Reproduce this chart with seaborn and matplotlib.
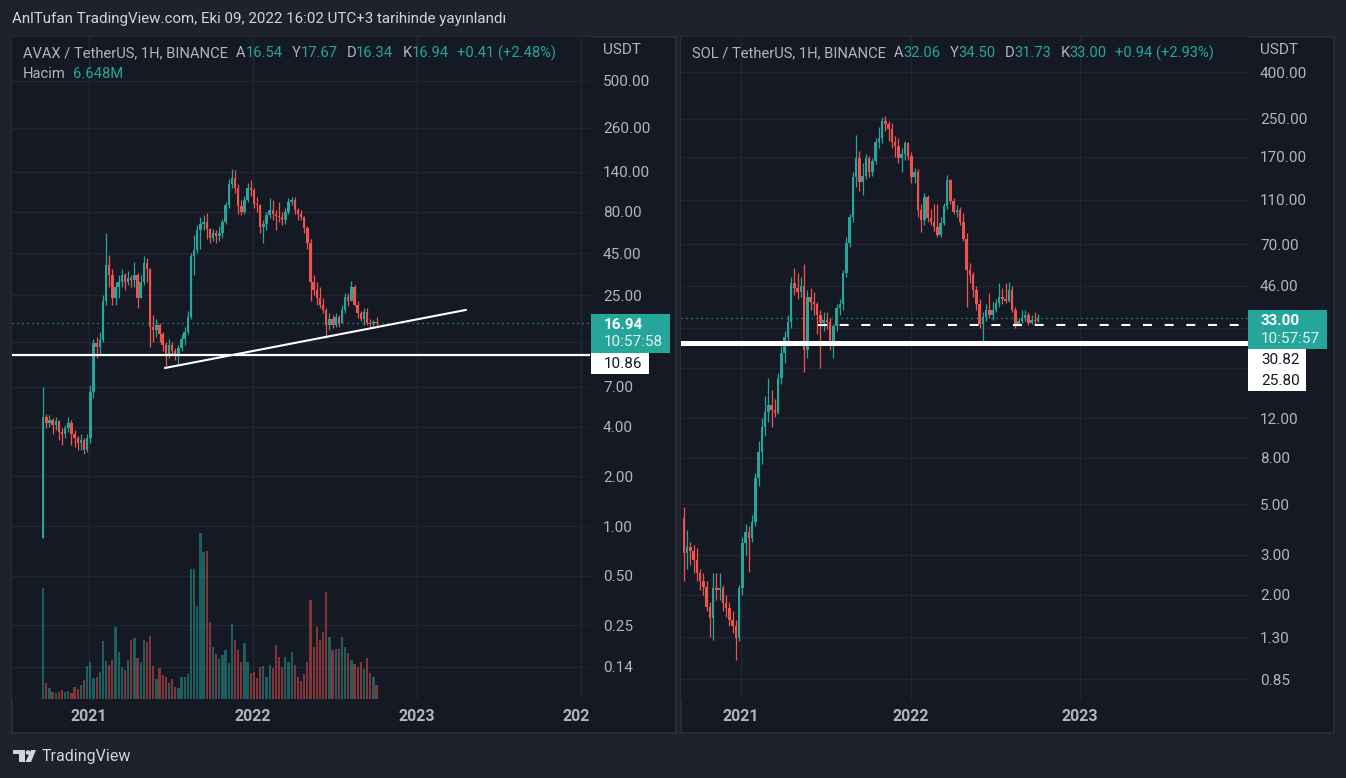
import numpy as np
import pandas as pd
import matplotlib
matplotlib.use("Agg")
import matplotlib.pyplot as plt
import matplotlib.dates as mdates
from matplotlib.patches import Rectangle, Polygon, Circle
from matplotlib.ticker import NullLocator
from matplotlib.transforms import Bbox, TransformedBbox
import seaborn as sns

# ---------------------------------------------------------------- data
avax_start = "2020-09-21"   # weekly candles
avax_open = [0.85, 4.6, 4.2, 4.4, 4.1, 4.3, 3.7, 3.6, 3.9, 4.2, 3.6, 3.4, 3.2, 3.3, 2.9,
             3.4, 6.5, 12.8, 12.2, 13.4, 23, 38, 33, 24, 28, 30, 33, 30, 32, 31,
             33, 24, 30, 39, 36, 16, 15.5, 16.5, 14.5, 12.5, 11, 12.5, 11.5, 10.8, 12,
             13.5, 15, 18.5, 43, 47, 62, 68, 70, 63, 56, 60, 57, 60, 70, 88,
             118, 128, 112, 87, 80, 95, 112, 108, 90, 88, 65, 68, 77, 82, 78,
             76, 75, 72, 80, 92, 95, 82, 78, 75, 64, 52, 30, 27, 24, 22,
             20.5, 16.5, 18, 16.5, 18.5, 17, 20.5, 24.5, 23, 28, 22, 19.5, 18, 19.8, 17,
             16.8, 17.2]
avax_high = [7.0, 4.8, 4.7, 4.5, 4.6, 4.4, 3.9, 4.1, 4.6, 4.4, 3.8, 3.5, 3.6, 3.4, 3.6,
             7.2, 13.5, 14, 15, 25, 60, 44, 36, 30, 33, 36, 34, 35, 33, 40,
             34, 33, 43, 42, 36.6, 19, 18, 17, 15, 13, 13.5, 13, 12, 12.5, 14.5,
             16, 20, 45, 58, 67, 75, 77, 79, 64, 63, 62, 66, 73, 92, 126,
             146, 144, 118, 95, 100, 120, 125, 112, 98, 90, 72, 80, 97, 95, 82,
             92, 80, 84, 97, 99, 98, 84, 82, 76, 66, 55, 33, 30, 28, 24,
             21, 19.5, 19, 19.5, 19, 22, 26, 26, 30.5, 29, 23, 20, 21, 21, 18,
             17.8, 18.5]
avax_low = [0.85, 3.9, 4.0, 3.6, 3.8, 3.3, 3.1, 3.4, 3.7, 3.1, 3.0, 2.9, 2.9, 2.75, 2.8,
            3.2, 6.0, 10.5, 11, 13, 22, 28, 22, 22, 24, 28, 27, 29, 28, 28,
            21, 24, 29, 30, 12.2, 13, 14, 13, 11.5, 9.1, 10.5, 10.8, 10.2, 9.3, 11.5,
            12.5, 14.5, 18, 33, 45, 48, 62, 55, 52, 53, 52, 53, 56, 68, 84,
            112, 105, 78, 77, 78, 92, 100, 85, 80, 60, 52, 62, 74, 72, 62,
            70, 67, 68, 78, 88, 78, 72, 72, 60, 48, 23, 25, 22, 21, 19.5,
            13.8, 15.5, 15.8, 16, 16, 17, 19.5, 21.5, 23, 21.5, 18.3, 17.5, 16.5, 16.5, 16,
            16.3, 16.3]
avax_close = [4.6, 4.2, 4.4, 4.1, 4.3, 3.7, 3.6, 3.9, 4.2, 3.6, 3.4, 3.2, 3.3, 2.9, 3.4,
              6.5, 12.8, 12.2, 13.4, 23, 38, 33, 24, 28, 30, 33, 30, 32, 31, 33,
              24, 30, 39, 36, 16, 15.5, 16.5, 14.5, 12.5, 11, 12.5, 11.5, 10.8, 12, 13.5,
              15, 18.5, 43, 47, 62, 68, 70, 63, 56, 60, 57, 60, 70, 88, 118,
              128, 112, 87, 80, 95, 112, 108, 90, 88, 65, 68, 77, 82, 78, 76,
              75, 72, 80, 92, 95, 82, 78, 75, 64, 52, 30, 27, 24, 22, 20.5,
              16.5, 18, 16.5, 18.5, 17, 20.5, 24.5, 23, 28, 22, 19.5, 18, 19.8, 17, 16.8,
              17.2, 16.94]
avax_volume = [111, 16, 11, 7, 6, 7, 9, 7, 8, 6, 12, 10, 14, 19, 33,
               37, 21, 22, 27, 58, 38, 34, 39, 72, 47, 32, 29, 39, 59, 61,
               41, 37, 59, 57, 63, 33, 20, 31, 24, 22, 16, 20, 12, 11, 22,
               22, 25, 130, 130, 93, 166, 147, 148, 77, 52, 45, 40, 44, 49, 36,
               75, 59, 49, 37, 56, 37, 26, 27, 21, 32, 33, 22, 34, 31, 54,
               42, 32, 42, 37, 47, 34, 22, 18, 25, 37, 99, 52, 72, 59, 67,
               107, 62, 49, 50, 50, 62, 52, 46, 39, 35, 32, 37, 30, 41, 26,
               22, 14]

sol_start = "2020-08-31"    # weekly candles
sol_open = [4.35, 3.05, 3.24, 3.1, 2.84, 2.5, 2.3, 2.16, 1.76, 1.58, 2.14, 2.1, 2.15, 1.84, 1.75,
            1.55, 1.45, 1.29, 2.14, 3.38, 3.78, 3.55, 4.17, 6.5, 8.5, 11, 12.7, 13.7, 13, 12.6,
            18, 23.2, 27.2, 31.8, 47, 45, 43, 46, 24, 41, 39, 38, 34, 31.4, 32.5,
            31.8, 26, 30.4, 36.7, 38, 52, 70.6, 92, 138, 168, 132, 140, 168, 145, 163,
            197, 205, 245, 236, 225, 197, 190, 168, 175, 195, 171, 138, 146, 98.5, 89,
            113, 91, 88, 83.6, 76.7, 87, 103, 134, 109, 97, 99, 88, 74, 54, 51,
            44, 38, 31, 33.5, 36, 34, 36, 38.5, 41, 40, 39.5, 44, 36, 31, 32,
            33, 34, 31.5, 32.5, 32]
sol_high = [4.86, 3.85, 3.4, 3.3, 3.2, 2.6, 2.5, 2.3, 1.85, 2.5, 2.5, 2.5, 2.2, 2.0, 1.85,
            1.7, 1.55, 2.2, 3.6, 4.1, 4.0, 4.5, 6.9, 9.5, 12, 15, 18, 16, 14.5, 19,
            25, 29, 34, 50, 55, 52, 50, 57, 44, 45, 43, 39, 36, 35, 35,
            33, 31, 38, 40, 54, 75, 95, 145, 212, 180, 160, 175, 172, 168, 205,
            230, 254, 258, 245, 240, 210, 205, 185, 200, 198, 178, 152, 150, 105, 118,
            115, 100, 105, 105, 92, 106, 141, 136, 112, 104, 102, 96, 78, 58, 53,
            46, 40, 35, 38, 42.5, 39, 40, 47, 45, 47, 47.5, 46, 37, 33, 36,
            36, 35, 34, 35, 34.5]
sol_low = [2.3, 2.6, 2.7, 2.5, 2.3, 2.1, 2.0, 1.7, 1.3, 1.26, 1.9, 1.9, 1.7, 1.6, 1.45,
           1.35, 1.03, 1.25, 2.0, 3.0, 2.52, 3.4, 4.0, 6.0, 7.5, 10, 11.5, 11, 12.1, 12.5,
           17, 21, 25, 30, 42, 40, 41, 19.1, 22, 36, 34, 28, 20, 29, 29.5,
           24, 22.1, 29, 34, 36, 50, 68, 88, 125, 120, 115, 135, 138, 140, 158,
           185, 195, 220, 200, 185, 170, 160, 146, 165, 165, 130, 130, 92, 79, 85,
           88, 85, 80, 75, 75, 85, 100, 105, 95, 92, 85, 72, 37, 47, 41,
           36, 30, 25.8, 32, 33, 32.4, 35, 37, 38, 38.5, 39, 35, 30, 30.5, 31.5,
           32, 30.8, 31, 31, 31.7]
sol_close = [3.05, 3.24, 3.1, 2.84, 2.5, 2.3, 2.16, 1.76, 1.58, 2.14, 2.1, 2.15, 1.84, 1.75, 1.55,
             1.45, 1.29, 2.14, 3.38, 3.78, 3.55, 4.17, 6.5, 8.5, 11, 12.7, 13.7, 13, 12.6, 18,
             23.2, 27.2, 31.8, 47, 45, 43, 46, 24, 41, 39, 38, 34, 31.4, 32.5, 31.8,
             26, 30.4, 36.7, 38, 52, 70.6, 92, 138, 168, 132, 140, 168, 145, 163, 197,
             205, 245, 236, 225, 197, 190, 168, 175, 195, 171, 138, 146, 98.5, 89, 113,
             91, 88, 83.6, 76.7, 87, 103, 134, 109, 97, 99, 88, 74, 54, 51, 44,
             38, 31, 33.5, 36, 34, 36, 38.5, 41, 40, 39.5, 44, 36, 31, 32, 33,
             34, 31.5, 32.5, 32, 33]

avax_ticks = [0.14, 0.25, 0.5, 1, 2, 4, 7, 13, 25, 45, 80, 140, 260, 500]
avax_tick_labels = ["0.14", "0.25", "0.50", "1.00", "2.00", "4.00", "7.00", "",
                    "25.00", "45.00", "80.00", "140.00", "260.00", "500.00"]
sol_ticks = [0.85, 1.3, 2, 3, 5, 8, 12, 20, 30, 46, 70, 110, 170, 250, 400]
sol_tick_labels = ["0.85", "1.30", "2.00", "3.00", "5.00", "8.00", "12.00", "", "",
                   "46.00", "70.00", "110.00", "170.00", "250.00", "400.00"]
avax_year_ticks = ["2021-01-01", "2022-01-01", "2023-01-01", "2024-01-01"]
avax_year_labels = ["2021", "2022", "2023", "2024"]
sol_year_ticks = ["2021-01-01", "2022-01-01", "2023-01-01"]
sol_year_labels = ["2021", "2022", "2023"]

avax_last, avax_timer = 16.94, "10:57:58"
avax_level = 10.86
avax_trend_dates = ["2021-06-19", "2023-04-20"]
avax_trend_prices = [9.07, 20.4]
sol_last, sol_timer = 33.00, "10:57:57"
sol_dash_level, sol_solid_level = 30.82, 25.80
sol_dash_start = "2021-06-15"

title_text = "AnlTufan TradingView.com, Eki 09, 2022 16:02 UTC+3 tarihinde yayınlandı"
avax_legend = [("AVAX / TetherUS, 1H, BINANCE", "g", 0), ("A", "g", 8), ("16.54", "t", 0),
               ("Y", "g", 9), ("17.67", "t", 0), ("D", "g", 9), ("16.34", "t", 0),
               ("K", "g", 9), ("16.94", "t", 0), ("+0.41 (+2.48%)", "t", 8)]
sol_legend = [("SOL / TetherUS, 1H, BINANCE", "g", 0), ("A", "g", 8), ("32.06", "t", 0),
              ("Y", "g", 9), ("34.50", "t", 0), ("D", "g", 9), ("31.73", "t", 0),
              ("K", "g", 9), ("33.00", "t", 0), ("+0.94 (+2.93%)", "t", 8)]
volume_legend = [("Hacim", "g", 0), ("6.648M", "t", 7)]

# ---------------------------------------------------------------- style
OUTER = "#1e222d"
PANE = "#151924"
GRID = "#222632"
TXT = "#b2b5be"
HEAD = "#d1d4dc"
UP = "#26a69a"
DOWN = "#ef5350"

sns.set_theme(style="dark", rc={"axes.facecolor": PANE, "figure.facecolor": OUTER,
                                "axes.edgecolor": PANE, "grid.color": GRID})
plt.rcParams["font.family"] = ["Roboto", "DejaVu Sans"]

W, H = 1346, 778
fig = plt.figure(figsize=(W / 100, H / 100), dpi=100)
fig.patch.set_facecolor(OUTER)

FS = 11      # axis / label font size
BODY_W = 5.4  # candle body width in days


def frac(x0, y0, x1, y1):
    return [x0 / W, 1 - y1 / H, (x1 - x0) / W, (y1 - y0) / H]


ax_bg = fig.add_axes([0, 0, 1, 1], zorder=-10)
ax_bg.set_xlim(0, W); ax_bg.set_ylim(H, 0); ax_bg.set_axis_off()
for (x0, y0, x1, y1) in [(12, 37, 676, 733), (681, 37, 1334, 733)]:
    ax_bg.add_patch(Rectangle((x0, y0), x1 - x0, y1 - y0, facecolor=PANE,
                              edgecolor="#2a2e39", lw=1.2))


def candles(ax, dates, o, h, l, c, width):
    o, h, l, c = map(np.asarray, (o, h, l, c))
    cols = np.where(c >= o, UP, DOWN)
    ax.vlines(dates, l, h, colors=cols, lw=0.9, zorder=3)
    body = np.maximum(np.abs(c - o), np.minimum(o, c) * 0.012)
    ax.bar(dates, body, bottom=np.minimum(o, c), width=width, color=cols,
           linewidth=0, zorder=4)
    return cols


def setup(ax, ticks, labels, ylim, xlim, pad_px, clip_right, yticks, ylabels):
    ax.set_yscale("log")
    ax.set_ylim(*ylim)
    ax.set_xlim(*xlim)
    ax.yaxis.tick_right()
    ax.yaxis.set_label_position("right")
    ax.set_yticks(ticks, labels=labels)
    ax.yaxis.set_minor_locator(NullLocator())
    yt = mdates.date2num(pd.to_datetime(yticks))
    ax.set_xticks(yt, labels=ylabels)
    ax.xaxis.set_minor_locator(NullLocator())
    ax.grid(True, which="major", color=GRID, lw=1)
    ax.tick_params(axis="y", which="both", length=0, pad=pad_px * 0.72, labelsize=FS,
                   colors=TXT, left=False, labelleft=False, right=False, labelright=True)
    ax.tick_params(axis="x", length=0, pad=7.0, labelsize=11.5, colors=TXT)
    for lab in ax.get_xticklabels():
        lab.set_fontweight("bold")
    for s in ax.spines.values():
        s.set_visible(False)
    clip = TransformedBbox(Bbox.from_extents(0, 0, clip_right / W, 1), fig.transFigure)
    for t in ax.xaxis.get_major_ticks():
        t.label1.set_clip_on(True)
        t.label1.set_clip_box(clip)


# ---------------- AVAX pane
ax1 = fig.add_axes(frac(12, 37, 590, 699))
axv = ax1.twinx()
d1 = mdates.date2num(pd.date_range(avax_start, periods=len(avax_close), freq="7D"))
d2021 = mdates.date2num(pd.Timestamp("2021-01-01"))
ppd1 = 164 / 365.0
xlim1 = (d2021 - (89 - 12) / ppd1, d2021 + (590 - 89) / ppd1)
ylim1 = (10 ** ((526 - 699) / 165), 10 ** ((526 - 37) / 165))
setup(ax1, avax_ticks, avax_tick_labels, ylim1, xlim1, 13, 590,
      avax_year_ticks, avax_year_labels)
cols1 = candles(ax1, d1, avax_open, avax_high, avax_low, avax_close, BODY_W)

axv.set_ylim(0, max(avax_volume) / 0.251)
axv.bar(d1, avax_volume, width=5.0, color=cols1, alpha=0.5, linewidth=0, zorder=2)
axv.yaxis.set_visible(False)
axv.grid(False)
for s in axv.spines.values():
    s.set_visible(False)
axv.set_xlim(*xlim1)

ax1.axhline(avax_level, color="white", lw=1.6, zorder=6)
ax1.axhline(avax_last, color=UP, lw=0.9, ls=(0, (1, 3)), zorder=2)
sns.lineplot(x=mdates.date2num(pd.to_datetime(avax_trend_dates)), y=avax_trend_prices,
             ax=ax1, color="white", lw=1.5, zorder=6)

# ---------------- SOL pane
ax2 = fig.add_axes(frac(681, 37, 1248, 699))
d2 = mdates.date2num(pd.date_range(sol_start, periods=len(sol_close), freq="7D"))
ppd2 = 339 / 730.0
xlim2 = (d2021 - (741 - 681) / ppd2, d2021 + (1248 - 741) / ppd2)
ylim2 = (10 ** ((663 - 699) / 227), 10 ** ((663 - 37) / 227))
setup(ax2, sol_ticks, sol_tick_labels, ylim2, xlim2, 12, 1248,
      sol_year_ticks, sol_year_labels)
candles(ax2, d2, sol_open, sol_high, sol_low, sol_close, BODY_W)
ax2.axhline(sol_solid_level, color="white", lw=3.6, zorder=6)
ax2.axhline(sol_last, color=UP, lw=0.9, ls=(0, (1, 3)), zorder=2)
ds = mdates.date2num(pd.Timestamp(sol_dash_start))
ax2.plot([ds, xlim2[1]], [sol_dash_level, sol_dash_level], color="white", lw=1.5,
         ls=(0, (4.3, 6.1)), zorder=6, solid_capstyle="butt", dash_capstyle="butt")

# ---------------------------------------------------------------- overlay texts
ov = fig.add_axes([0, 0, 1, 1], zorder=20)
ov.set_xlim(0, W); ov.set_ylim(H, 0); ov.set_axis_off()
ov.patch.set_visible(False)

ov.text(12, 19, title_text, color=HEAD, fontsize=10.9, ha="left", va="center")


def chain(x, y, parts, size=10.6):
    colmap = {"g": TXT, "t": UP}
    t = ov.text(x, y, parts[0][0], color=colmap[parts[0][1]], fontsize=size,
                ha="left", va="center")
    for s, c, gap in parts[1:]:
        t = ov.annotate(s, xy=(1, 0.5), xycoords=t, xytext=(gap * 0.72, 0),
                        textcoords="offset points", color=colmap[c], fontsize=size,
                        ha="left", va="center")


chain(23, 53, avax_legend)
chain(23, 74, volume_legend)
chain(692, 53, sol_legend)
ov.text(603, 50, "USDT", color=TXT, fontsize=FS, ha="left", va="center")
ov.text(1260, 50, "USDT", color=TXT, fontsize=FS, ha="left", va="center")

# price label boxes
ov.add_patch(Rectangle((591, 314), 79, 39, facecolor=UP, edgecolor="none"))
ov.text(604, 325, f"{avax_last:.2f}", color="white", fontsize=FS, fontweight="bold",
        ha="left", va="center")
ov.text(604, 342, avax_timer, color="#dff3f1", fontsize=FS, ha="left", va="center")
ov.add_patch(Rectangle((591, 353), 58, 21, facecolor="white", edgecolor="none"))
ov.text(604, 363.5, f"{avax_level:.2f}", color="#131722", fontsize=FS, ha="left", va="center")

ov.add_patch(Rectangle((1248, 310), 79, 39, facecolor=UP, edgecolor="none"))
ov.text(1261, 321, f"{sol_last:.2f}", color="white", fontsize=FS, fontweight="bold",
        ha="left", va="center")
ov.text(1261, 339, sol_timer, color="#dff3f1", fontsize=FS, ha="left", va="center")
ov.add_patch(Rectangle((1248, 349), 58, 42, facecolor="white", edgecolor="none"))
ov.text(1261, 360, f"{sol_dash_level:.2f}", color="#131722", fontsize=FS, ha="left", va="center")
ov.text(1261, 381, f"{sol_solid_level:.2f}", color="#131722", fontsize=FS, ha="left", va="center")

# footer logo
ov.add_patch(Polygon([(13, 750), (25, 750), (25, 762), (19, 762), (19, 754), (13, 754)],
                     closed=True, facecolor=HEAD, edgecolor="none"))
ov.add_patch(Circle((28, 752.5), 2.3, facecolor=HEAD, edgecolor="none"))
ov.add_patch(Polygon([(31, 750), (36, 750), (31, 762), (25.5, 762)], closed=True,
                     facecolor=HEAD, edgecolor="none"))
ov.text(42, 757, "TradingView", color=HEAD, fontsize=11.5, ha="left", va="center")

fig.savefig("out.png", dpi=100, facecolor=OUTER)
